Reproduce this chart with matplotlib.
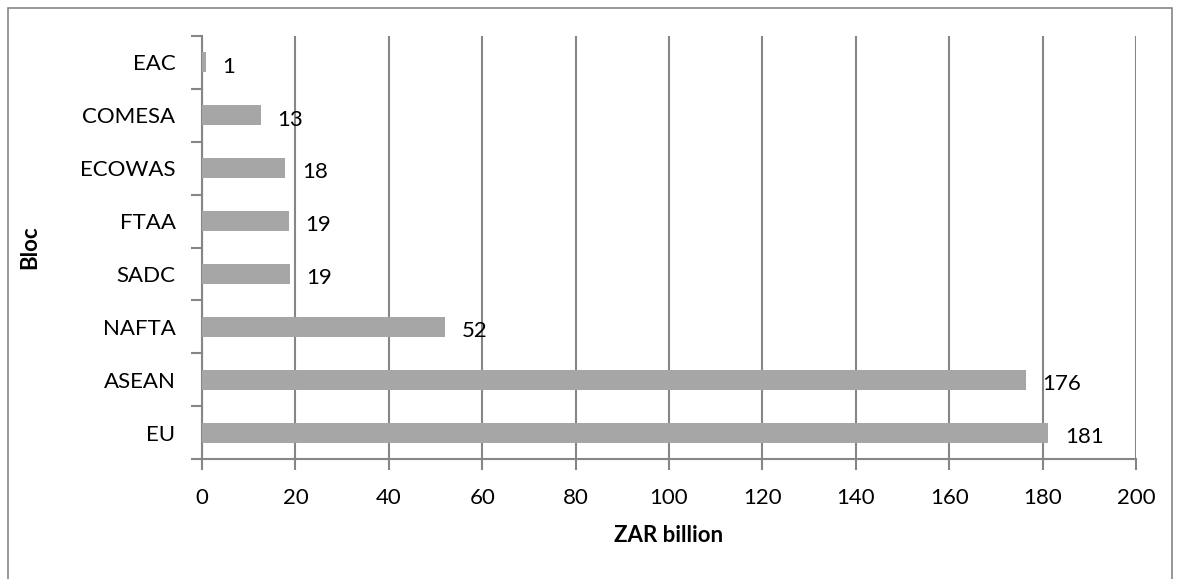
import matplotlib
matplotlib.use("Agg")
import matplotlib.pyplot as plt
from matplotlib.patches import Rectangle
import numpy as np

blocs = ["EU", "ASEAN", "NAFTA", "SADC", "FTAA", "ECOWAS", "COMESA", "EAC"]
values = [181.2, 176.4, 52.0, 18.8, 18.6, 17.8, 12.6, 0.8]
labels = ["181", "176", "52", "19", "19", "18", "13", "1"]

plt.rcParams['font.family'] = ['Lato', 'DejaVu Sans']
FS = 16

fig = plt.figure(figsize=(11.81, 5.79), dpi=100)
ax = fig.add_axes([202/1181, 1-459/579, (1136-202)/1181, (459-36)/579])

y = np.arange(len(blocs))
ax.barh(y, values, height=0.38, color="#a6a6a6", zorder=3)
for yi, v, lab in zip(y, values, labels):
    ax.text(v + 3.6, yi - 0.08, lab, va="center", ha="left", fontsize=FS, color="black", zorder=4)

ax.set_xlim(0, 200)
ax.set_ylim(-0.5, len(blocs) - 0.5)
ax.set_xticks(np.arange(0, 201, 20))
ax.set_yticks(y)
ax.set_yticklabels(blocs)
ax.set_yticks(np.arange(-0.5, len(blocs), 1.0), minor=True)
ax.tick_params(axis="y", which="major", length=0, pad=19, labelsize=FS)
ax.tick_params(axis="y", which="minor", length=8, width=1.5, color="#868686")
ax.tick_params(axis="x", which="major", length=8, width=1.5, color="#868686", pad=13, labelsize=FS)
ax.grid(axis="x", color="#868686", linewidth=1.5, zorder=0)

for s in ["top", "right"]:
    ax.spines[s].set_visible(False)
for s in ["left", "bottom"]:
    ax.spines[s].set_color("#868686")
    ax.spines[s].set_linewidth(1.5)

ax.set_xlabel("ZAR billion", fontsize=FS, fontweight="bold")
ax.xaxis.set_label_coords(0.5, 1 - (536 - 36) / (459 - 36), transform=ax.transAxes)
ax.xaxis.label.set_va("center")
ax.set_ylabel("Bloc", fontsize=FS, fontweight="bold")
ax.yaxis.set_label_coords((30 - 202) / (1136 - 202), 0.5, transform=ax.transAxes)
ax.yaxis.label.set_va("center")

fig.patches.append(Rectangle((8/1181, -0.05), (1172-8)/1181, 1.05 - 8/579,
                             transform=fig.transFigure, fill=False,
                             edgecolor="#868686", linewidth=1.2))

fig.savefig("out.png", dpi=100)
